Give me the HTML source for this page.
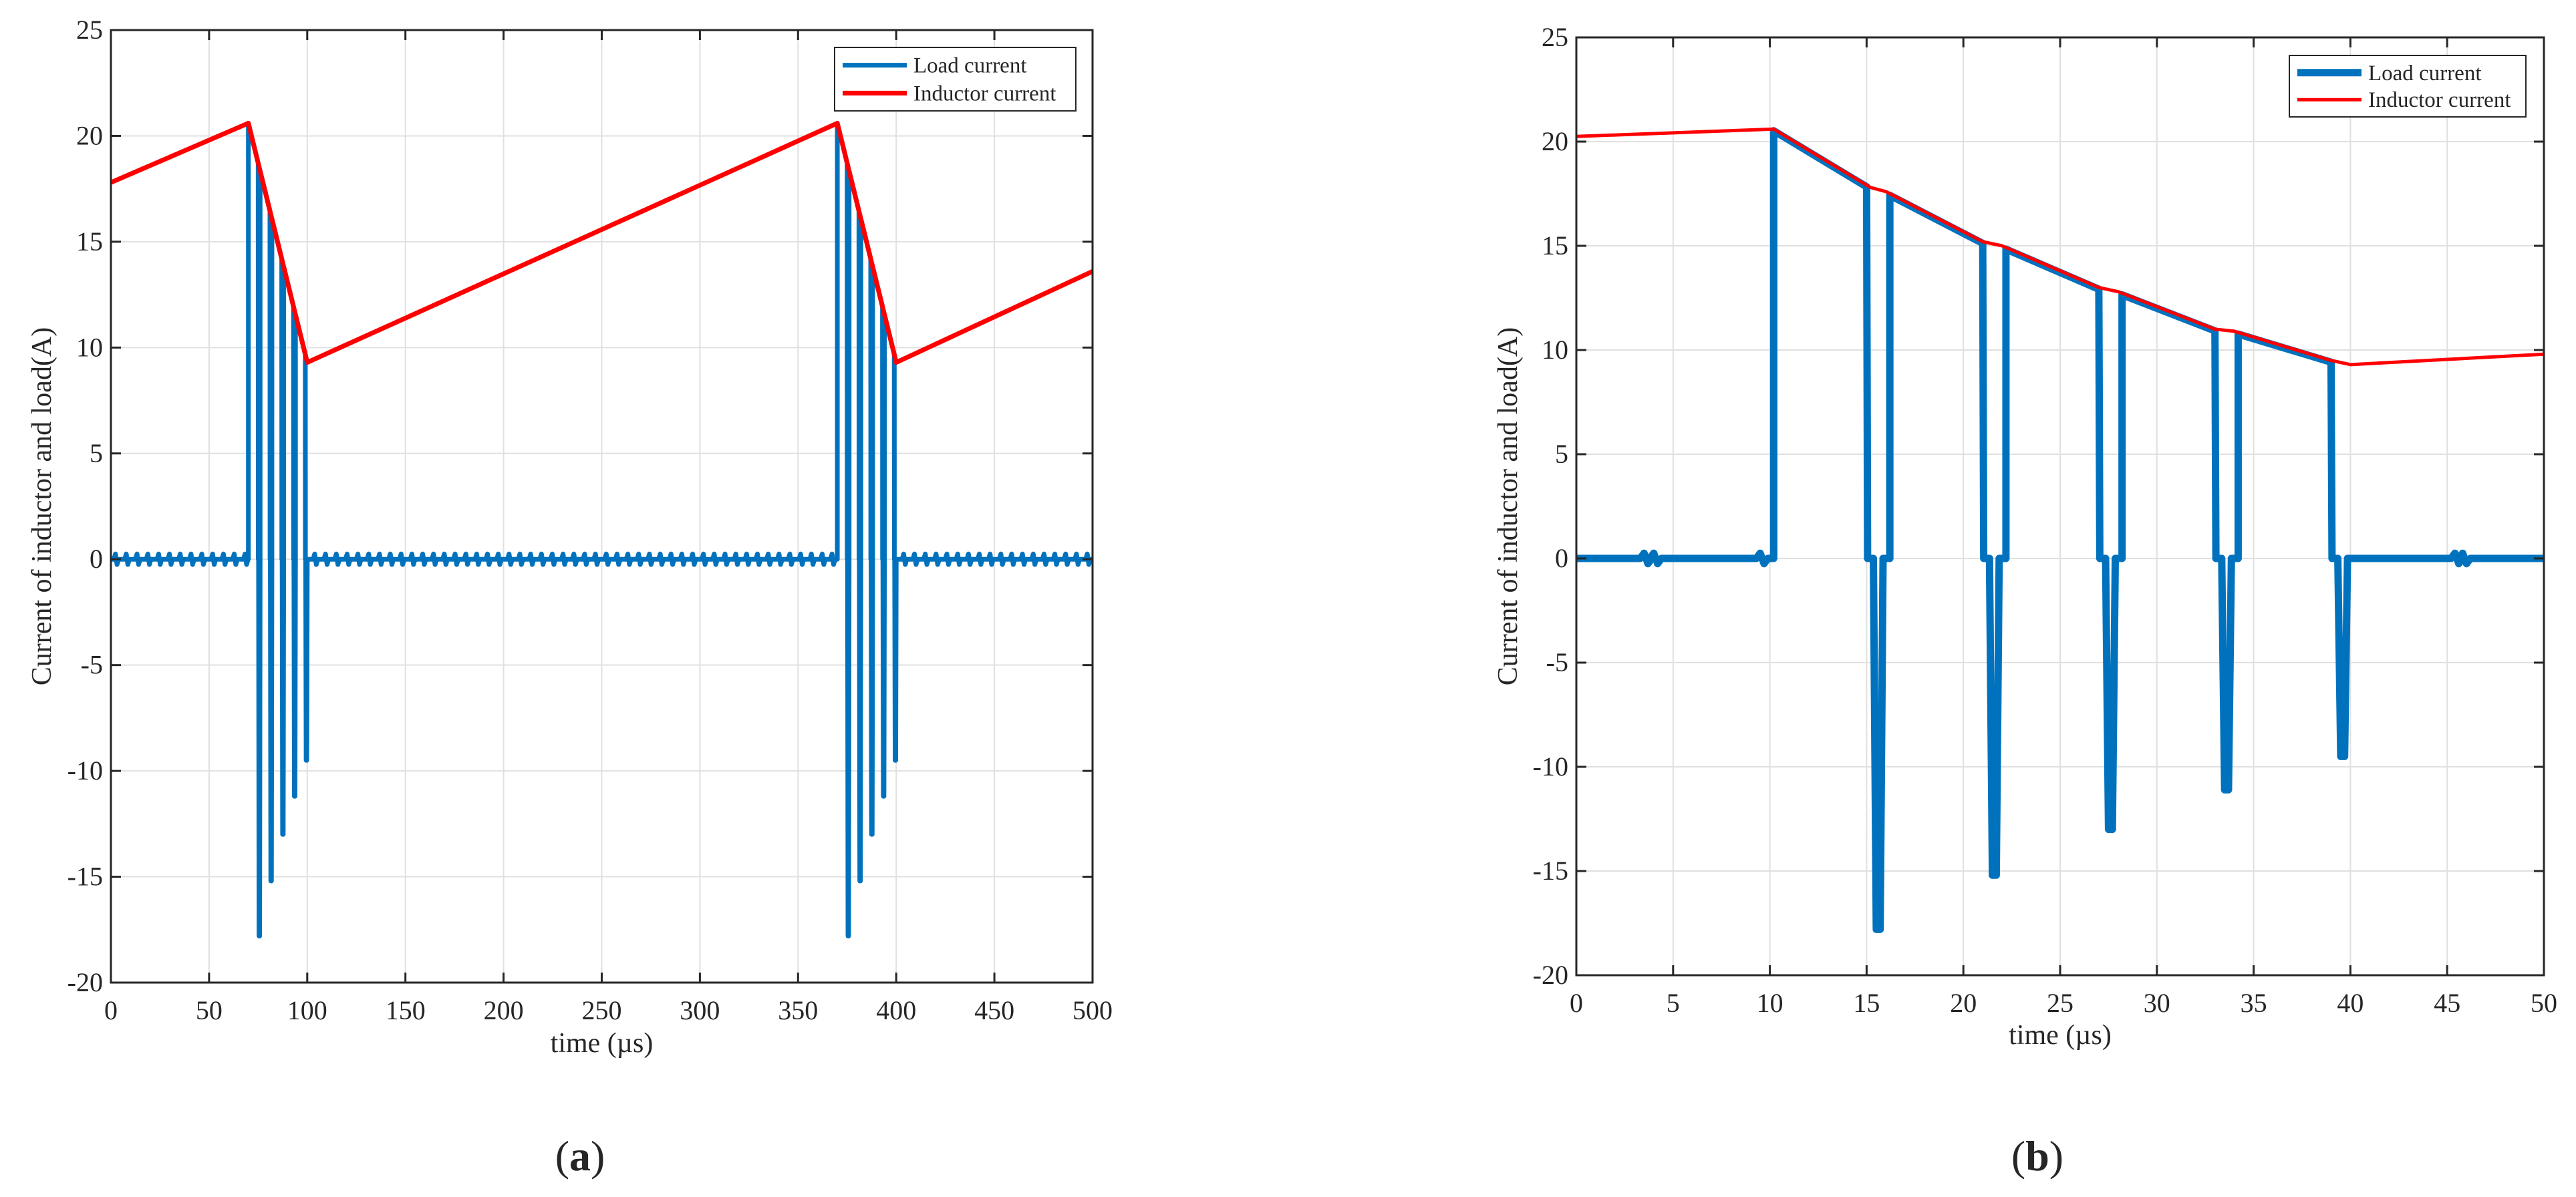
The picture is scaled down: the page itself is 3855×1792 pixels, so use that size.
<!DOCTYPE html>
<html><head><meta charset="utf-8"><style>
html,body{margin:0;padding:0;background:#fff;width:3855px;height:1792px;overflow:hidden}
svg text{font-family:"Liberation Serif",serif;fill:#262626}
</style></head><body>
<svg id="fig" width="3855" height="1792" viewBox="0 0 3855 1792"></svg>
<script>
// ---- Chart (a) data ----
const aIndT=[0,70,100,370,400,500];
const aIndI=[17.8,20.6,9.3,20.6,9.3,13.6];
const aPosStart=[70,76,82,88,94,370,376,382,388,394];
const aNegT=[75.6,81.6,87.6,93.6,99.6,375.6,381.6,387.6,393.6,399.6];
const aNegPeak=[-17.8,-15.2,-13,-11.2,-9.5,-17.8,-15.2,-13,-11.2,-9.5];
const aRipple=[1.5,7,12.5,18,23.5,29,34.5,40,45.5,51,56.5,62,67.5,103,108.5,114,119.5,125,130.5,136,141.5,147,152.5,158,163.5,169,174.5,180,185.5,191,196.5,202,207.5,213,218.5,224,229.5,235,240.5,246,251.5,257,262.5,268,273.5,279,284.5,290,295.5,301,306.5,312,317.5,323,328.5,334,339.5,345,350.5,356,361.5,366.5,403,408.5,414,419.5,425,430.5,436,441.5,447,452.5,458,463.5,469,474.5,480,485.5,491,496.5];
const aXTicks=[0,50,100,150,200,250,300,350,400,450,500];
const yTicks=[-20,-15,-10,-5,0,5,10,15,20,25];
// ---- Chart (b) data ----
const bIndT=[0,10.2,15.2,16,21,22,27,28,33,34,39,40,50];
const bIndI=[20.25,20.6,17.8,17.6,15.2,15,13,12.8,11,10.9,9.5,9.3,9.8];
const bPosStart=[10.2,16.2,22.2,28.2,34.2];
const bNegT=[15.6,21.6,27.6,33.6,39.6];
const bNegPeak=[-17.8,-15.2,-13,-11.1,-9.5];
const bRipple=[3.3,3.8,9.3,45.2,45.6];
const bXTicks=[0,5,10,15,20,25,30,35,40,45,50];

const NS="http://www.w3.org/2000/svg";
const svg=document.getElementById('fig');
function mk(tag,attrs,parent){const e=document.createElementNS(NS,tag);for(const k in attrs)e.setAttribute(k,attrs[k]);(parent||svg).appendChild(e);return e;}
function interp(T,V,t){for(let i=0;i<T.length-1;i++){if(t<=T[i+1]){const f=(t-T[i])/(T[i+1]-T[i]);return V[i]+f*(V[i+1]-V[i]);}}return V[V.length-1];}

function chart(cfg){
  const g=mk('g',{});
  
  
  const {L,R,T,B,xmax,xTicks}=cfg;
  const sx=v=>L+(v/xmax)*(R-L);
  const sy=v=>B-(v+20)/45*(B-T);
  xTicks.forEach(v=>{const l=mk('line',{x1:sx(v),x2:sx(v),y1:T,y2:B,stroke:'#e0e0e0','stroke-width':2},g);
    
    });
  yTicks.forEach(v=>{const l=mk('line',{x1:L,x2:R,y1:sy(v),y2:sy(v),stroke:'#e0e0e0','stroke-width':2},g);
    
    });
  let ind=cfg.indT.map((t,i)=>sx(t)+','+sy(cfg.indI[i])).join(' ');
  const segs=[];
  const rw=cfg.rippleW;
  cfg.ripple.forEach(r=>segs.push({t:r,pts:[[r,0],[r+rw,0.25],[r+2*rw,-0.25],[r+3*rw,0]]}));
  cfg.posStart.forEach((s,i)=>{
    const nt=cfg.negT[i],n=cfg.negPeak[i],e=nt-0.6,w=cfg.negW;
    const pts=[[s,0],[s,interp(cfg.indT,cfg.indI,s)-cfg.off]];
    pts.push([e,interp(cfg.indT,cfg.indI,e)-cfg.off],[e+0.05,0],[nt-w,0],[nt-w*0.4,n],[nt+w*0.4,n],[nt+w,0]);
    segs.push({t:s,pts});
  });
  segs.sort((a,b)=>a.t-b.t);
  let lp=[[0,0]];segs.forEach(s=>lp=lp.concat(s.pts));lp.push([xmax,0]);
  const load=mk('polyline',{points:lp.map(p=>sx(p[0])+','+sy(p[1])).join(' '),fill:'none',stroke:'#0072BD','stroke-width':cfg.lw,'stroke-linejoin':'round'},g);
  
  
  const il=mk('polyline',{points:ind,fill:'none',stroke:'#FF0000','stroke-width':cfg.rw,'stroke-linejoin':'round'},g);
  
  
  const box=mk('rect',{x:L,y:T,width:R-L,height:B-T,fill:'none',stroke:'#262626','stroke-width':3},g);
  
  
  xTicks.forEach(v=>{
    mk('line',{x1:sx(v),x2:sx(v),y1:B,y2:B-15,stroke:'#262626','stroke-width':3},g);
    mk('line',{x1:sx(v),x2:sx(v),y1:T,y2:T+15,stroke:'#262626','stroke-width':3},g);
    const t=mk('text',{x:sx(v),y:B+55,'font-size':40,'text-anchor':'middle'},g);t.textContent=v;
    
    
  });
  yTicks.forEach(v=>{
    mk('line',{x1:L,x2:L+15,y1:sy(v),y2:sy(v),stroke:'#262626','stroke-width':3},g);
    mk('line',{x1:R,x2:R-15,y1:sy(v),y2:sy(v),stroke:'#262626','stroke-width':3},g);
    const t=mk('text',{x:L-12,y:sy(v)+13,'font-size':40,'text-anchor':'end'},g);t.textContent=v;
    
    
  });
  const xl=mk('text',{x:(L+R)/2,y:cfg.xlY,'font-size':42,'text-anchor':'middle'},g);xl.textContent='time (\u00b5s)';
  
  
  const yl=mk('text',{x:0,y:0,'font-size':42,'text-anchor':'middle',transform:`translate(${cfg.ylX},${(T+B)/2}) rotate(-90)`},g);yl.textContent='Current of inductor and load(A)';
  
  
  const lg=cfg.leg;
  const lb=mk('rect',{x:lg.x,y:lg.y,width:lg.w,height:lg.h,fill:'#fff',stroke:'#262626','stroke-width':2},g);
  
  
  const r1=lg.y+lg.h*0.28,r2=lg.y+lg.h*0.72;
  mk('line',{x1:lg.x+12,x2:lg.x+108,y1:r1,y2:r1,stroke:'#0072BD','stroke-width':cfg.lw},g);
  mk('line',{x1:lg.x+12,x2:lg.x+108,y1:r2,y2:r2,stroke:'#FF0000','stroke-width':cfg.rw},g);
  const t1=mk('text',{x:lg.x+118,y:r1+11,'font-size':33},g);t1.textContent='Load current';
  
  
  const t2=mk('text',{x:lg.x+118,y:r2+11,'font-size':33},g);t2.textContent='Inductor current';
  
  
  const cap=mk('text',{x:cfg.capX,y:1752,'font-size':64,'text-anchor':'middle'},g);
  cap.innerHTML='(<tspan font-weight="bold">'+cfg.cap+'</tspan>)';
  
  
}
chart({name:'chart-a',L:166,R:1635,T:45,B:1471,xmax:500,xTicks:aXTicks,indT:aIndT,indI:aIndI,posStart:aPosStart,negT:aNegT,negPeak:aNegPeak,ripple:aRipple,rippleW:0.8,negW:0.4,off:0,lw:7,rw:7,xlY:1575,ylX:76,leg:{x:1249,y:71,w:361,h:95},capX:868,cap:'a'});
chart({name:'chart-b',L:2359,R:3807,T:56,B:1460,xmax:50,xTicks:bXTicks,indT:bIndT,indI:bIndI,posStart:bPosStart,negT:bNegT,negPeak:bNegPeak,ripple:bRipple,rippleW:0.2,negW:0.25,off:0.08,lw:11,rw:5,xlY:1563,ylX:2270,leg:{x:3426,y:83,w:354,h:92},capX:3049,cap:'b'});
</script>
</body></html>
